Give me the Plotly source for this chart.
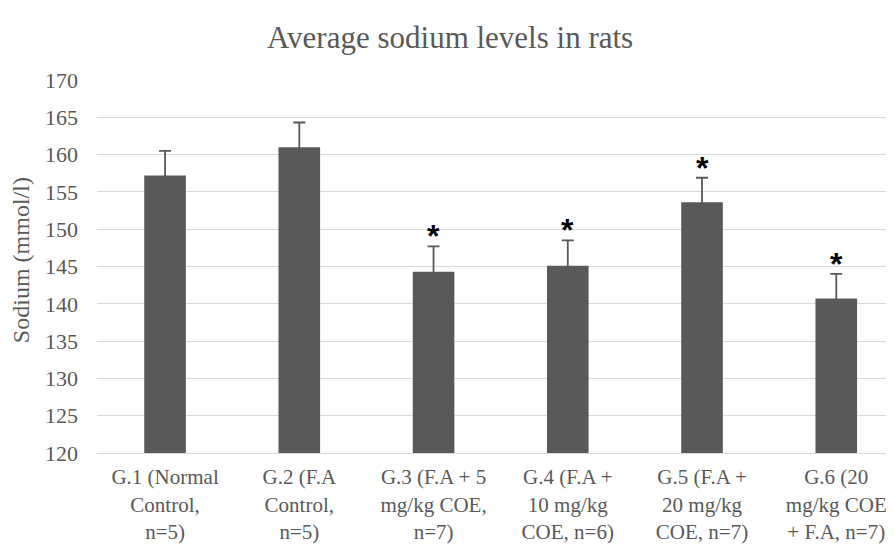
import plotly.graph_objects as go

categories = [
    "G.1 (Normal<br>Control,<br>n=5)",
    "G.2 (F.A<br>Control,<br>n=5)",
    "G.3 (F.A + 5<br>mg/kg COE,<br>n=7)",
    "G.4 (F.A +<br>10 mg/kg<br>COE, n=6)",
    "G.5 (F.A +<br>20 mg/kg<br>COE, n=7)",
    "G.6 (20<br>mg/kg COE<br>+ F.A, n=7)",
]
sodium_mean = [157.2, 161.0, 144.3, 145.1, 153.6, 140.7]
sodium_err = [3.3, 3.3, 3.4, 3.4, 3.3, 3.3]
significant = [False, False, True, True, True, True]
y_ticks = [120, 125, 130, 135, 140, 145, 150, 155, 160, 165, 170]

TXT = "#595959"
FONT = "Liberation Serif"

fig = go.Figure()
fig.add_trace(go.Bar(
    x=list(range(len(categories))),
    y=sodium_mean,
    marker=dict(color="#595959", line=dict(width=0)),
    error_y=dict(type="data", array=sodium_err, visible=True,
                 color="#595959", thickness=1.8, width=6),
))

for i, (m, e, s) in enumerate(zip(sodium_mean, sodium_err, significant)):
    if s:
        fig.add_annotation(x=i, y=m + e, text="<b>*</b>", showarrow=False,
                           xref="x", yref="y", yanchor="bottom",
                           yshift=-10,
                           font=dict(size=32, color="black",
                                     family="Liberation Sans"))

fig.add_annotation(text="Sodium (mmol/l)", textangle=-90, showarrow=False,
                   xref="paper", yref="paper", x=-0.0954, y=0.517,
                   xanchor="center", yanchor="middle",
                   font=dict(family=FONT, size=24, color=TXT))

fig.update_layout(
    width=886, height=540,
    paper_bgcolor="white", plot_bgcolor="white",
    margin=dict(l=89, r=0, t=72, b=95),
    title=dict(text="Average sodium levels in rats", x=0.499, xanchor="center",
               y=0.946, yanchor="middle",
               font=dict(family=FONT, size=31, color=TXT)),
    bargap=0.69,
    showlegend=False,
    font=dict(family=FONT, color=TXT),
)
fig.update_xaxes(
    tickmode="array", tickvals=list(range(len(categories))), ticktext=categories,
    range=[-0.507, 5.43],
    tickfont=dict(family=FONT, size=21, color=TXT),
    showline=True, linecolor="#d9d9d9", linewidth=1,
    showgrid=False, ticks="", ticklabelstandoff=5, automargin=False,
)
fig.update_yaxes(
    range=[120, 170], tickvals=y_ticks,
    tickfont=dict(family=FONT, size=22, color=TXT),
    showgrid=True, gridcolor="#d9d9d9", gridwidth=1,
    zeroline=False, ticks="", ticklabelstandoff=18, automargin=False,
)

fig.write_html("out.html")
